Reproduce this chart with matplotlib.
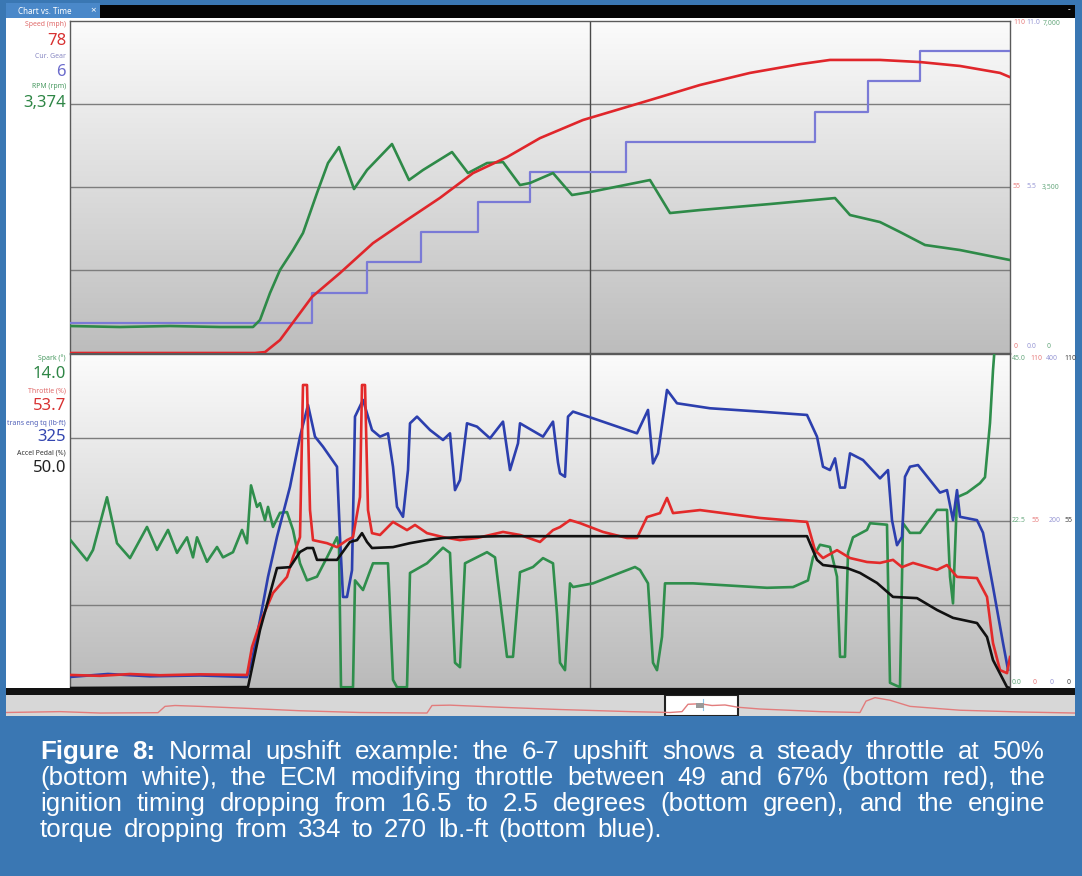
import matplotlib
matplotlib.use('Agg')
import matplotlib.pyplot as plt
import numpy as np
from matplotlib.patches import Rectangle

# ---------------- data (log sample index, 20 samples per second) ----------------
speed_n = [0, 185, 195, 210, 242, 270, 303, 337, 370, 403, 437, 470, 513, 580, 630, 680, 730, 760, 810, 850, 890, 930, 940]
speed_mph = [0, 0, 0.3, 4.3, 18.6, 26.5, 36.4, 44.1, 51.4, 59.6, 64.9, 71.2, 77.2, 83.8, 88.8, 92.8, 95.7, 97.1, 97.1, 96.4, 95.1, 92.8, 91.4]

gear_n = [0, 242, 297, 351, 408, 460, 556, 745, 798, 850, 940]
gear = [1, 2, 3, 4, 5, 6, 7, 8, 9, 10, 10]

rpm_n = [0, 50, 100, 150, 183, 190, 200, 210, 223, 233, 247, 258, 269, 284, 297, 322, 339, 353, 382, 398,
         417, 433, 450, 460, 483, 502, 520, 580, 600, 630, 700, 765, 780, 810, 830, 855, 890, 940]
rpm = [569, 548, 569, 548, 548, 696, 1265, 1750, 2171, 2530, 3373, 4005, 4342, 3457, 3858, 4406, 3647, 3858, 4237, 3794,
       4005, 4026, 3541, 3584, 3794, 3331, 3394, 3647, 2951, 3014, 3141, 3267, 2909, 2761, 2551, 2277, 2171, 1960]

spark_n = [0, 17, 23, 37, 47, 60, 77, 87, 98, 107, 117, 123, 127, 137, 147, 153, 163, 172, 177, 181,
           187, 190, 195, 198, 203, 210, 217, 223, 230, 237, 247, 257, 267, 269, 271, 283, 285, 293, 303, 318,
           323, 327, 337, 340, 357, 373, 380, 385, 390, 395, 417, 425, 437, 443, 450, 463, 473, 483, 487, 490,
           495, 500, 503, 523, 540, 565, 570, 578, 583, 587, 592, 595, 623, 697, 723, 738, 743, 750, 760, 767,
           770, 775, 778, 783, 797, 800, 817, 820, 830, 833, 840, 850, 867, 877, 880, 883, 887, 897, 910, 915,
           920, 923, 927, 940]
spark_deg = [20.0, 17.2, 18.6, 25.7, 19.5, 17.5, 21.7, 18.6, 21.3, 18.2, 20.3, 17.6, 20.3, 17.0, 19.0, 17.6, 18.3, 21.3, 19.5, 27.3,
             24.4, 24.9, 22.6, 24.4, 21.7, 23.6, 23.7, 21.3, 16.8, 14.5, 15.0, 17.6, 20.3, 19.0, 0.1, 0.1, 14.5, 13.2, 16.8, 16.8,
             1.1, 0.1, 0.1, 15.5, 16.8, 18.9, 18.2, 3.4, 2.8, 16.8, 18.3, 17.6, 4.2, 4.2, 15.6, 16.3, 17.5, 16.8, 10.0, 3.4,
             2.4, 14.1, 13.6, 14.1, 15.0, 16.3, 15.9, 14.1, 3.4, 2.4, 6.9, 14.1, 14.1, 13.5, 13.6, 14.5, 17.6, 19.3, 19.0, 15.0,
             4.2, 4.2, 18.2, 20.3, 21.3, 22.2, 22.0, 0.7, 0.1, 22.2, 20.9, 20.9, 24.0, 24.0, 15.0, 11.4, 25.7, 26.3, 27.6, 28.4,
             35.7, 42.8, 50.0, 60.0]

throttle_n = [0, 30, 60, 90, 130, 177, 182, 190, 203, 217, 223, 230, 233, 237, 240, 243, 257, 267, 277, 283,
              290, 292, 295, 298, 302, 310, 323, 337, 345, 357, 373, 390, 407, 433, 450, 470, 483, 490, 500, 510,
              533, 557, 567, 577, 590, 597, 603, 630, 690, 737, 745, 753, 767, 780, 797, 810, 823, 832, 843, 867,
              877, 887, 907, 917, 923, 930, 937, 940]
throttle_pct = [4.3, 4.0, 4.6, 4.2, 4.5, 4.3, 13.5, 21.4, 31.3, 36.6, 43.1, 49.7, 99.8, 99.8, 58.6, 48.7, 47.7, 46.4, 48.7, 49.7,
                62.9, 99.8, 99.8, 58.6, 51.0, 50.4, 54.7, 52.0, 53.7, 51.0, 49.7, 48.7, 49.4, 51.4, 50.4, 48.1, 52.0, 53.0, 55.3, 54.3,
                51.4, 49.4, 49.4, 56.3, 57.6, 62.6, 57.6, 58.6, 56.0, 54.7, 45.4, 42.8, 45.4, 42.8, 41.5, 41.2, 42.2, 39.8, 41.2, 38.9,
                40.5, 36.6, 36.2, 30.0, 14.8, 5.9, 4.9, 10.2]

torque_n = [0, 38, 80, 130, 177, 182, 190, 198, 207, 220, 230, 238, 245, 253, 267, 270, 273, 277, 282, 285,
            293, 302, 310, 318, 323, 327, 333, 338, 340, 347, 360, 373, 380, 385, 390, 397, 407, 420, 433, 440,
            448, 450, 473, 483, 488, 490, 495, 498, 503, 523, 567, 578, 583, 588, 597, 607, 640, 690, 737, 747,
            753, 760, 765, 770, 775, 780, 793, 810, 818, 822, 827, 832, 835, 840, 848, 870, 877, 883, 887, 890,
            907, 913, 923, 933, 938]
torque_lbft = [13.2, 16.8, 14.0, 15.0, 13.2, 33.5, 81.4, 133, 181, 241, 301, 339, 301, 289, 265, 181, 109, 109, 141, 325,
               345, 309, 301, 305, 265, 217, 205, 261, 317, 325, 309, 297, 305, 237, 249, 317, 313, 299, 319, 261,
               293, 317, 301, 319, 270, 257, 253, 325, 331, 323, 305, 333, 269, 281, 357, 341, 335, 331, 327, 301,
               265, 261, 275, 240, 240, 281, 273, 251, 261, 201, 171, 181, 253, 265, 267, 234, 237, 201, 237, 205,
               201, 186, 121, 54, 22]

pedal_n = [0, 178, 190, 207, 220, 230, 237, 243, 247, 267, 280, 287, 292, 297, 302, 323, 340, 357, 373, 390,
           430, 737, 747, 753, 777, 790, 807, 823, 847, 867, 883, 907, 917, 923, 937, 940]
pedal_pct = [0, 0.3, 19.1, 39.5, 39.8, 44.8, 46.1, 46.1, 42.2, 42.2, 48.1, 48.7, 51.0, 48.1, 46.1, 46.4, 47.7, 48.7, 49.4, 49.7,
             50.0, 50.0, 42.2, 40.5, 39.5, 37.9, 34.6, 30.0, 29.6, 25.7, 23.1, 21.4, 16.8, 9.2, 0.3, 0.0]

cursor_n = 520
samples_per_s = 20.0
log_len_n = 940

# overview strip (whole log, relative position and level)
overview_pos = [0, 54, 94, 152, 159, 169, 194, 244, 294, 354, 421, 426, 444, 494, 554, 624, 664, 676, 682, 694,
                706, 719, 732, 754, 814, 854, 860, 869, 884, 904, 954, 1014, 1069]
overview_lvl = [0.15, 0.2, 0.12, 0.14, 0.5, 0.55, 0.5, 0.38, 0.25, 0.15, 0.12, 0.55, 0.57, 0.45, 0.32, 0.2, 0.15, 0.2, 0.62, 0.65,
                0.55, 0.58, 0.45, 0.35, 0.2, 0.15, 0.8, 1.0, 0.85, 0.5, 0.28, 0.18, 0.12]

# ---------------- figure ----------------
W, H, DPI = 1082, 876, 100
BLUE = '#3a77b3'
UI_FONT = 'Noto Sans'
fig = plt.figure(figsize=(W / DPI, H / DPI), dpi=DPI)
fig.patch.set_facecolor(BLUE)


def box(x0, y0, x1, y1, fc, ec='none', lw=0.0, z=-1):
    r = Rectangle((x0 / W, 1 - y1 / H), (x1 - x0) / W, (y1 - y0) / H, transform=fig.transFigure,
                  facecolor=fc, edgecolor=ec, linewidth=lw, zorder=z)
    fig.add_artist(r)


def ftext(x, y, s, **kw):
    kw.setdefault('family', UI_FONT)
    return fig.text(x / W, 1 - y / H, s, **kw)


# white background of the chart window, tab bar
box(6, 18, 1075, 688, 'white')
box(6, 3, 100, 18, '#4a88c9')
box(100, 5, 1075, 18, '#050505')
ftext(18, 11, 'Chart vs. Time', color='white', fontsize=5.8, va='center', ha='left')
ftext(93, 11, '×', color='white', fontsize=7, va='center', ha='center')
ftext(1069, 10, '-', color='white', fontsize=6, va='center', ha='center')

t_max = log_len_n / samples_per_s


def panel(y0, y1, top_val, bot_val):
    ax = fig.add_axes([70 / W, 1 - y1 / H, 940 / W, (y1 - y0) / H])
    ax.set_xlim(0, t_max)
    ax.set_ylim(0, 4)
    grad = np.linspace(top_val, bot_val, 256)[:, None, None] * np.ones((1, 1, 3))
    ax.imshow(grad, extent=[0, t_max, 0, 4], aspect='auto', zorder=0, interpolation='bilinear')
    for g in (1, 2, 3):
        ax.axhline(g, color='#7d7d7d', lw=1.0, zorder=1)
    ax.axvline(cursor_n / samples_per_s, color='#4a4a4a', lw=1.0, zorder=1)
    ax.set_xticks([])
    ax.set_yticks([])
    for s in ax.spines.values():
        s.set_color('#5a5a5a')
        s.set_linewidth(1.0)
    return ax


def series(ax, n, v, ymax, color, lw=1.9, **kw):
    a = ax.twinx()
    a.set_ylim(0, ymax)
    a.set_xlim(0, t_max)
    a.axis('off')
    a.plot(np.array(n) / samples_per_s, v, color=color, lw=lw, solid_joinstyle='round', **kw)
    return a


ax_top = panel(21, 353, 0.985, 0.74)
ax_bot = panel(354, 688, 0.985, 0.73)

C_SPEED = '#e0262b'
C_GEAR = '#7a7ad6'
C_RPM = '#2e8a48'
C_SPARK = '#2f8e4c'
C_THR = '#e32a2a'
C_TQ = '#2c3fae'
C_PED = '#111111'

series(ax_top, gear_n, gear, 11, C_GEAR, lw=1.6, drawstyle='steps-post')
series(ax_top, rpm_n, rpm, 7000, C_RPM)
series(ax_top, speed_n, speed_mph, 110, C_SPEED)

series(ax_bot, spark_n, spark_deg, 45, C_SPARK)
series(ax_bot, torque_n, torque_lbft, 400, C_TQ)
series(ax_bot, throttle_n, throttle_pct, 110, C_THR)
series(ax_bot, pedal_n, pedal_pct, 110, C_PED)

# left labels
lx = 66
for y, s, c, fs in [(24, 'Speed (mph)', '#e06a6a', 5.0), (41, '78', '#d83232', 12),
                    (57, 'Cur. Gear', '#8a8ac4', 5.0), (72, '6', '#6b6bcc', 12),
                    (87, 'RPM (rpm)', '#4a9a62', 5.0), (103, '3,374', '#2f8646', 12),
                    (358, 'Spark (°)', '#4a9a62', 5.0), (374, '14.0', '#2f8646', 12),
                    (391, 'Throttle (%)', '#e06a6a', 5.0), (406, '53.7', '#d83232', 12),
                    (423, 'trans eng tq (lb·ft)', '#5060b8', 5.0), (437, '325', '#3446b0', 12),
                    (453, 'Accel Pedal (%)', '#333333', 5.0), (468, '50.0', '#222222', 12)]:
    t = ftext(lx, y, s, color=c, fontsize=fs, ha='right', va='center')
    t.set_clip_on(False)

# right scale labels
R_RED, R_BLUE, R_GREEN, R_BLK = '#e88080', '#9a9ad6', '#6aaa80', '#444444'
for y, items in [(23, [(1013, '110', R_RED), (1026, '11.0', R_BLUE), (1043, '7,000', R_GREEN)]),
                 (187, [(1013, '55', R_RED), (1027, '5.5', R_BLUE), (1042, '3,500', R_GREEN)]),
                 (347, [(1014, '0', R_RED), (1027, '0.0', R_BLUE), (1047, '0', R_GREEN)]),
                 (358, [(1012, '45.0', R_GREEN), (1030, '110', R_RED), (1046, '400', R_BLUE), (1064, '110', R_BLK)]),
                 (521, [(1012, '22.5', R_GREEN), (1032, '55', R_RED), (1049, '200', R_BLUE), (1065, '55', R_BLK)]),
                 (683, [(1012, '0.0', R_GREEN), (1033, '0', R_RED), (1050, '0', R_BLUE), (1067, '0', R_BLK)])]:
    for x, s, c in items:
        ftext(x, y, s, color=c, fontsize=5.0, ha='left', va='center')

# thick black separator and overview strip
box(6, 688, 1075, 695, '#121212', z=2)
ax_ov = fig.add_axes([6 / W, 1 - 716 / H, 1069 / W, 21 / H])
ax_ov.set_xlim(0, 1069)
ax_ov.set_ylim(-0.05, 1.15)
ax_ov.set_facecolor('#d7d7d7')
ax_ov.add_patch(Rectangle((659, -0.05), 73, 1.2, facecolor='white', edgecolor='#222222', lw=1.5, zorder=1))
ax_ov.plot(overview_pos, overview_lvl, color='#e27c7c', lw=1.0, zorder=2)
ax_ov.plot([697, 697], [0.3, 0.9], color='#8cc4e8', lw=0.8, zorder=2)
ax_ov.add_patch(Rectangle((690, 0.4), 8, 0.3, facecolor='#9a9a9a', edgecolor='none', zorder=3))
ax_ov.set_xticks([])
ax_ov.set_yticks([])
for s in ax_ov.spines.values():
    s.set_visible(False)

# caption (justified like the original)
CAP_FONT = 'Liberation Sans'
renderer = fig.canvas.get_renderer()
cap_lines = [
    ['Figure', '8:', 'Normal', 'upshift', 'example:', 'the', '6-7', 'upshift', 'shows', 'a', 'steady', 'throttle', 'at', '50%'],
    ['(bottom', 'white),', 'the', 'ECM', 'modifying', 'throttle', 'between', '49', 'and', '67%', '(bottom', 'red),', 'the'],
    ['ignition', 'timing', 'dropping', 'from', '16.5', 'to', '2.5', 'degrees', '(bottom', 'green),', 'and', 'the', 'engine'],
    ['torque', 'dropping', 'from', '334', 'to', '270', 'lb.-ft', '(bottom', 'blue).'],
]
probe = fig.text(0, 0, ' '.join(cap_lines[3]), family=CAP_FONT, fontsize=10)
w10 = probe.get_window_extent(renderer).width
probe.remove()
cap_fs = 10 * 622 / w10 * 0.96

baselines = [759, 785, 811, 837]
x_left = 40
x_rights = [1045, 1045, 1045, 662]
for li, words in enumerate(cap_lines):
    texts = []
    for wi, wd in enumerate(words):
        bold = (li == 0 and wi < 2)
        t = ftext(0, baselines[li], wd, color='white', fontsize=cap_fs, family=CAP_FONT,
                  fontweight='bold' if bold else 'normal', ha='left', va='baseline')
        texts.append(t)
    widths = [t.get_window_extent(renderer).width for t in texts]
    gap = (x_rights[li] - x_left - sum(widths)) / (len(words) - 1)
    x = x_left
    for t, w in zip(texts, widths):
        t.set_x(x / W)
        x += w + gap

fig.savefig('out.png', dpi=DPI, facecolor=fig.get_facecolor())
